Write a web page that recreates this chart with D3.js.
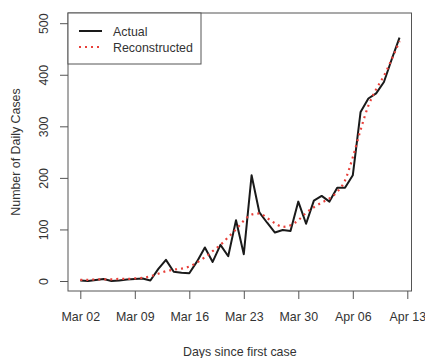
<!DOCTYPE html>
<html>
<head>
<meta charset="utf-8">
<script src="https://cdn.jsdelivr.net/npm/d3@7"></script>
<style>
  body { margin: 0; background: #fff; }
  svg { font-family: "Liberation Sans", Arial, sans-serif; }
</style>
</head>
<body>
<div id="chart"></div>
<script>
// daily values, one per day starting Mar 02
var startDate = "2020-03-02";
var actual = [1, 0, 2, 4, 0, 1, 3, 4, 5, 1, 23, 41, 18, 16, 15, 38, 65, 37, 70, 48,
  118, 52, 205, 133, 113, 94, 99, 97, 154, 111, 156, 165, 154, 181, 181, 205,
  328, 354, 364, 386, 430, 472];
var reconstructed = [2, 2, 3, 3, 3, 4, 4, 5, 6, 9, 14, 19, 22, 24, 28, 36, 46, 58, 70, 85,
  100, 117, 129, 131, 122, 112, 105, 108, 118, 132, 143, 152, 160, 173, 195, 240,
  293, 340, 372, 398, 430, 465];
var tickDates = ["2020-03-02", "2020-03-09", "2020-03-16", "2020-03-23", "2020-03-30", "2020-04-06", "2020-04-13"];
var yTicks = [0, 100, 200, 300, 400, 500];
var legendNames = ["Actual", "Reconstructed"];

var width = 425, height = 358;
var parse = d3.utcParse("%Y-%m-%d");
var fmt = d3.utcFormat("%b %d");

function dayOf(i) { return d3.utcDay.offset(parse(startDate), i); }

var svg = d3.select("#chart").append("svg")
  .attr("width", width)
  .attr("height", height);

// plot box in px
var box = {left: 68, top: 13, right: 411.5, bottom: 291};

var x = d3.scaleUtc()
  .domain([parse("2020-03-02"), parse("2020-04-13")])
  .range([80.3, 407.3]);
var y = d3.scaleLinear()
  .domain([0, 500])
  .range([281, 23.2]);

var textColor = "#333";
var axisColor = "#555";
var fs = 12.4;

// box
svg.append("rect")
  .attr("x", box.left)
  .attr("y", box.top)
  .attr("width", box.right - box.left)
  .attr("height", box.bottom - box.top)
  .attr("fill", "none")
  .attr("stroke", axisColor)
  .attr("stroke-width", 1);

// x axis
var gx = svg.append("g").attr("transform", "translate(0," + box.bottom + ")");
gx.call(d3.axisBottom(x)
  .tickValues(tickDates.map(parse))
  .tickFormat(fmt)
  .tickSize(8)
  .tickPadding(13));
gx.select(".domain").remove();
gx.selectAll(".tick line").attr("stroke", axisColor);
gx.selectAll(".tick text")
  .attr("font-size", fs)
  .attr("fill", textColor)
  .attr("font-family", "Liberation Sans, Arial, sans-serif");

// y axis
var gy = svg.append("g").attr("transform", "translate(" + box.left + ",0)");
gy.call(d3.axisLeft(y).tickValues(yTicks).tickSize(8).tickPadding(0).tickFormat(d3.format("d")));
gy.select(".domain").remove();
gy.selectAll(".tick line").attr("stroke", axisColor);
gy.selectAll(".tick text")
  .attr("font-size", fs)
  .attr("fill", textColor)
  .attr("font-family", "Liberation Sans, Arial, sans-serif")
  .attr("text-anchor", "middle")
  .attr("dy", null)
  .attr("x", null)
  .attr("transform", "translate(-20,0) rotate(-90)");

// axis titles
svg.append("text")
  .attr("x", (box.left + box.right) / 2)
  .attr("y", 356)
  .attr("text-anchor", "middle")
  .attr("font-size", fs)
  .attr("fill", textColor)
  .text("Days since first case");

svg.append("text")
  .attr("transform", "translate(20," + ((box.top + box.bottom) / 2) + ") rotate(-90)")
  .attr("text-anchor", "middle")
  .attr("font-size", fs)
  .attr("fill", textColor)
  .text("Number of Daily Cases");

// lines
var line = d3.line()
  .x(function(d, i) { return x(dayOf(i)); })
  .y(function(d) { return y(d); });

svg.append("path")
  .datum(actual)
  .attr("d", line)
  .attr("fill", "none")
  .attr("stroke", "#1a1a1a")
  .attr("stroke-width", 2)
  .attr("stroke-linejoin", "round");

svg.append("path")
  .datum(reconstructed)
  .attr("d", d3.line()
    .curve(d3.curveMonotoneX)
    .x(function(d, i) { return x(dayOf(i)); })
    .y(function(d) { return y(d); }))
  .attr("fill", "none")
  .attr("stroke", "#e8403a")
  .attr("stroke-width", 2.2)
  .attr("stroke-dasharray", "2,4");

// legend
var lg = svg.append("g");
lg.append("rect")
  .attr("x", box.left)
  .attr("y", box.top)
  .attr("width", 133)
  .attr("height", 51)
  .attr("fill", "#fff")
  .attr("stroke", axisColor)
  .attr("stroke-width", 1);

var styles = [
  {stroke: "#1a1a1a", dash: null, w: 2},
  {stroke: "#e8403a", dash: "2,4", w: 2.2}
];
legendNames.forEach(function(name, i) {
  var ly = 31 + i * 16;
  lg.append("line")
    .attr("x1", 79).attr("x2", 102)
    .attr("y1", ly).attr("y2", ly)
    .attr("stroke", styles[i].stroke)
    .attr("stroke-width", styles[i].w)
    .attr("stroke-dasharray", styles[i].dash);
  lg.append("text")
    .attr("x", 113)
    .attr("y", ly + 4.5)
    .attr("font-size", fs)
    .attr("fill", textColor)
    .text(name);
});
</script>
</body>
</html>
